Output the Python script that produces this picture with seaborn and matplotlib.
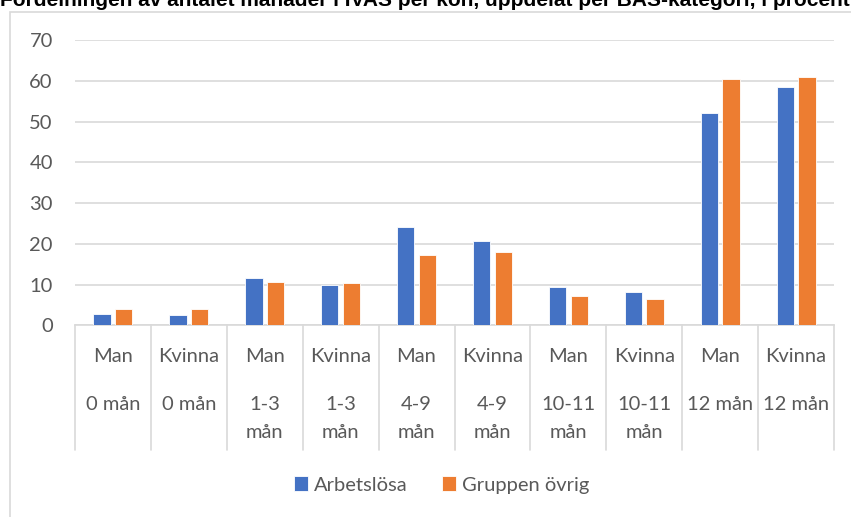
import seaborn as sns
import pandas as pd
import matplotlib.pyplot as plt
import matplotlib.transforms as mtransforms
from matplotlib.lines import Line2D
from matplotlib.patches import Rectangle

# Data
kon = ['Man', 'Kvinna', 'Man', 'Kvinna', 'Man', 'Kvinna', 'Man', 'Kvinna', 'Man', 'Kvinna']
period = ['0 mån', '0 mån', '1-3 mån', '1-3 mån', '4-9 mån', '4-9 mån',
          '10-11 mån', '10-11 mån', '12 mån', '12 mån']
arbetslosa = [2.8, 2.6, 11.6, 9.9, 24.0, 20.6, 9.4, 8.2, 52.1, 58.5]
gruppen_ovrig = [4.1, 4.0, 10.7, 10.3, 17.2, 18.0, 7.2, 6.5, 60.5, 60.8]
serier = ['Arbetslösa', 'Gruppen övrig']
titel = 'Fördelningen av antalet månader i IVAS per kön, uppdelat per BAS-kategori, i procent'

farger = ['#4472C4', '#ED7D31']
textfarg = '#595959'
linjefarg = '#D9D9D9'
fs = 14.5

nycklar = [f'{k}|{p}' for k, p in zip(kon, period)]
df = pd.DataFrame({
    'kategori': nycklar * 2,
    'serie': [serier[0]] * len(nycklar) + [serier[1]] * len(nycklar),
    'procent': arbetslosa + gruppen_ovrig,
})

sns.set_theme(style='white')
plt.rcParams['font.family'] = ['Lato', 'DejaVu Sans']

W, H = 851, 517
fig = plt.figure(figsize=(W / 100, H / 100), dpi=100)
ax = fig.add_axes([75 / W, 1 - 325.3 / H, (834 - 75) / W, (325.3 - 40) / H])

sns.barplot(data=df, x='kategori', y='procent', hue='serie', order=nycklar,
            hue_order=serier, palette=farger, saturation=1, width=0.57, gap=0.2,
            edgecolor='white', linewidth=0.6, ax=ax, zorder=3)

ax.set_ylim(0, 70)
ax.set_xlim(-0.5, len(nycklar) - 0.5)
ax.set_yticks(range(0, 71, 10))
ax.yaxis.grid(True, color=linjefarg, linewidth=1.2, zorder=0)
ax.set_xticks([])
ax.tick_params(axis='y', length=0, pad=16, labelsize=fs, labelcolor=textfarg)
ax.set_xlabel('')
ax.set_ylabel('')
for s in ['top', 'left', 'right']:
    ax.spines[s].set_visible(False)
ax.spines['bottom'].set_color(linjefarg)
ax.spines['bottom'].set_linewidth(1.2)

# kategoriaxel med två nivåer
trans = mtransforms.blended_transform_factory(ax.transData, fig.transFigure)
for i in range(len(nycklar) + 1):
    ax.add_line(Line2D([i - 0.5, i - 0.5], [1 - 325.3 / H, 1 - 450 / H], transform=trans,
                       color=linjefarg, linewidth=1.2, clip_on=False))
for i, (k, p) in enumerate(zip(kon, period)):
    ax.text(i, 1 - 357 / H, k, transform=trans, ha='center', va='center',
            fontsize=fs, color=textfarg)
    if '-' in p:
        a, b = p.split(' ')
        ax.text(i, 1 - 404 / H, a, transform=trans, ha='center', va='center',
                fontsize=fs, color=textfarg)
        ax.text(i, 1 - 432 / H, b, transform=trans, ha='center', va='center',
                fontsize=fs, color=textfarg)
    else:
        ax.text(i, 1 - 404 / H, p, transform=trans, ha='center', va='center',
                fontsize=fs, color=textfarg)

sns.move_legend(ax, 'center', bbox_to_anchor=(442 / W, 1 - 485 / H),
                bbox_transform=fig.transFigure, ncol=2, frameon=False, title=None,
                fontsize=fs, handlelength=0.7, handleheight=0.7,
                columnspacing=1.7, handletextpad=0.3)
for t in ax.get_legend().get_texts():
    t.set_color(textfarg)

# ram runt diagrammet
fig.patches.append(Rectangle((10 / W, -0.01), 1.0, 1 - 12 / H + 0.01,
                             transform=fig.transFigure, fill=False,
                             edgecolor=linjefarg, linewidth=1.2))

fig.text(0.0, 1 - 6 / H, titel, ha='left', va='baseline', fontsize=15,
         fontweight='bold', color='black',
         family=['Liberation Sans Narrow', 'Liberation Sans'])

fig.savefig('out.png', dpi=100)
